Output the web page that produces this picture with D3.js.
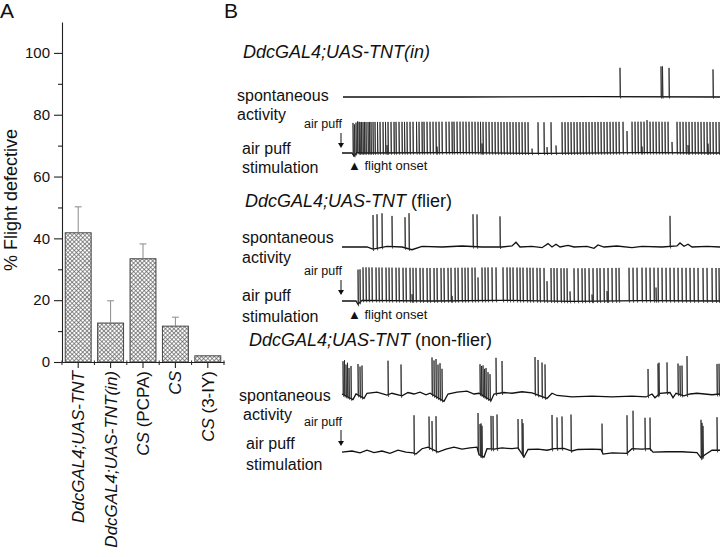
<!DOCTYPE html>
<html>
<head>
<meta charset="utf-8">
<script src="https://cdn.jsdelivr.net/npm/d3@7"></script>
<style>
  body { margin: 0; background: #fff; }
  svg { display: block; font-family: "Liberation Sans", Arial, sans-serif; }
</style>
</head>
<body>
<div id="chart"></div>
<script>
// ---- panel A data ----
const genotypes = ["DdcGAL4;UAS-TNT", "DdcGAL4;UAS-TNT(in)", "CS (PCPA)", "CS", "CS (3-IY)"];
const defective = [41.8, 12.6, 33.4, 11.6, 2.0];
const defectiveErr = [8.4, 7.2, 4.8, 2.9, 0];
const yTicks = [0, 20, 40, 60, 80, 100];
const yMinor = [10, 30, 50, 70, 90];

// ---- panel B data (time in ms, amplitude relative to spike height) ----
const traceTitles = [
  ["DdcGAL4;UAS-TNT(in)", ""],
  ["DdcGAL4;UAS-TNT", " (flier)"],
  ["DdcGAL4;UAS-TNT", " (non-flier)"]
];

// inhibited line, spontaneous
const t1SpontBase = [[1, 0], [120, 0], [250, 0.01], [378, 0]];
const t1SpontSpikes = [[278, 1], [319, 1.05], [320.5, 1.05], [327, 1], [371, 0.95]];

// inhibited line, air puff
const t1PuffBase = [[0, 0], [10, 0], [12, -0.1], [15, 0.02], [18, 0], [120, 0.01], [200, -0.01], [300, 0.01], [378, 0]];
const t1PuffSpikes = [
  [11, 1.02], [12.5, 1], [14, 1], [15.5, 1], [17, 1], [18, 1], [19.5, 1], [21, 1], [22.5, 1], [24, 1],
  [26, 1], [27.5, 1], [29, 1], [31, 1], [33, 1], [35.5, 1], [38, 1], [41, 1], [43.5, 1], [46, 1],
  [49, 1], [52, 1], [54, 1], [57, 1], [60, 1], [62.5, 1], [65, 1], [68, 1], [71, 1], [74.5, 1],
  [77, 1], [80, 1], [82, 1], [85, 1], [88, 1], [91, 1], [94, 1], [97, 1], [100, 1], [104, 1],
  [107, 1], [110, 1], [112, 1], [115, 1], [118, 1], [121, 1], [124, 1], [127, 1], [130, 1], [133, 1],
  [136, 1], [138.5, 1], [141, 1], [144, 1], [147, 1], [150, 1], [153, 1], [156, 1], [159, 1], [162, 1],
  [165, 1], [168, 1], [171, 1], [174, 1], [177, 1], [180, 1], [183, 1], [186, 1], [196, 1], [202, 1],
  [209, 1], [220, 1], [223, 1], [226, 1], [229, 1], [232, 1], [235, 1], [238, 1], [241, 1], [244, 1],
  [247, 1], [250, 1], [253, 1], [256, 1], [259, 1], [262, 1], [265, 1], [268, 1], [271, 1], [274, 1],
  [277, 1], [281, 1], [290, 1], [293, 1], [296, 1], [299, 1], [302, 1], [305, 1.05], [308, 1], [311, 1],
  [314, 1], [317, 1], [320, 1], [323, 1], [326, 1], [335, 1], [338, 1], [341, 1], [344, 1], [347, 1],
  [350, 1], [353, 1], [356, 1], [359, 1], [362, 1], [365, 1], [368, 1], [371, 1], [374, 1], [377, 1],
  [45, 0.25], [95, 0.2], [140, 0.3], [190, 0.15], [205, 0.2], [214, 0.25], [285, 0.7], [300, 0.2],
  [330, 0.35], [346, 0.25], [366, 0.3]
];

// flier, spontaneous
const t2SpontBase = [
  [0, 0], [25, 0], [31, -0.06], [45, 0.02], [60, 0], [70, -0.08], [80, 0.02], [100, 0], [120, 0.03],
  [140, 0], [160, 0], [170, 0.03], [174, 0.14], [178, 0], [190, 0.02], [200, -0.02], [206, 0.1],
  [210, 0], [214, 0.08], [218, 0], [226, 0.05], [232, 0], [245, 0.02], [252, -0.04], [256, 0.06],
  [262, 0], [275, 0.03], [290, -0.02], [300, 0.02], [320, 0], [335, 0.03], [338, 0.12], [342, 0.02],
  [346, 0.08], [350, 0], [365, 0.02], [378, 0]
];
const t2SpontSpikes = [[31, 1], [35, 1], [40, 1], [50, 0.9], [63, 0.9], [67, 1.05], [131, 0.95], [135, 0.95], [158, 0.9], [328, 0.9]];

// flier, air puff
const t2PuffBase = [[0, 0], [14, 0], [16, -0.1], [20, 0.02], [90, 0], [160, 0.02], [230, -0.01], [300, 0.01], [378, 0]];
const t2PuffSpikes = [
  [16, 1.05], [18, 1], [21, 1], [24, 1], [27, 1], [30, 1], [34, 1], [37, 1], [40, 1], [44, 1],
  [47, 1], [50, 1], [54, 1], [57, 1], [61, 1], [64, 1], [68, 1], [71, 1], [74, 1], [78, 1],
  [81, 1], [85, 1], [88, 1], [92, 1], [95, 1], [99, 1], [102, 1], [106, 1], [109, 1], [113, 1],
  [116, 1], [120, 1], [123, 1], [126, 1], [130, 1], [133, 1], [140, 1], [143, 1], [146, 1], [150, 1],
  [154, 1], [161, 1], [165, 1], [168, 1], [171, 1], [175, 1], [178, 1], [181, 1], [185, 1], [188, 1],
  [191, 1], [195, 1], [198, 1], [202, 1], [209, 1], [212, 1], [215, 1], [219, 1], [222, 1], [225, 1],
  [232, 1], [236, 1], [240, 1], [243, 1], [247, 1], [251, 1], [255, 1], [258, 1], [262, 1], [266, 1],
  [270, 1], [274, 1], [277, 1], [287, 1], [291, 1], [295, 1], [300, 1], [304, 1], [308, 1], [312, 1],
  [316, 1], [320, 1], [324, 1], [328, 1], [332, 1], [336, 1], [340, 1], [344, 1], [348, 1], [352, 1],
  [356, 1], [361, 1], [365, 1], [370, 1], [374, 1], [377, 1],
  [136, 0.7], [205, 0.6], [228, 0.3], [265, 0.3], [314, 0.4], [70, 0.2], [110, 0.15], [250, 0.2]
];

// non-flier, spontaneous
const t3SpontBase = [
  [0, 0], [11, -0.15], [14, 0], [22, -0.12], [25, 0.02], [35, 0.05], [45, -0.03], [50, 0.02], [60, -0.05],
  [66, 0.04], [72, 0], [78, 0.05], [84, -0.02], [88, 0.02], [102, -0.2], [106, 0], [115, 0.05], [125, 0.08],
  [132, 0], [137, 0.02], [149, -0.18], [152, 0], [162, 0.04], [170, 0.02], [180, 0.06], [190, 0.03],
  [205, -0.12], [210, 0.02], [215, -0.04], [230, -0.08], [250, -0.06], [270, -0.08], [290, -0.06],
  [304, -0.08], [310, 0], [313, -0.1], [318, 0.02], [328, 0.04], [331, -0.1], [334, 0.02], [342, -0.05],
  [348, 0], [355, 0.02], [370, -0.02], [378, 0]
];
const t3SpontSpikes = [
  [1, 0.9], [2.5, 0.95], [4, 0.85], [5.5, 0.92], [7, 0.8], [9, 0.88],
  [16, 0.84], [18, 0.8], [20, 0.86], [46, 0.92], [59, 0.84],
  [90, 1.0], [92, 0.95], [94, 1.02], [96, 0.9], [98, 0.97], [100, 0.85],
  [138, 0.8], [139.5, 0.78], [141, 0.82], [142.5, 0.75], [144, 0.8], [146, 0.72], [148, 0.7],
  [154, 0.97], [160, 0.86], [193, 1.0], [196, 0.95], [200, 0.92], [203, 0.9],
  [306, 0.73], [316, 0.85], [317, 0.85], [325, 0.82], [336, 0.82], [338, 0.78], [340, 0.8],
  [345, 1.05], [375, 0.82], [377, 0.82]
];

// non-flier, air puff
const t3PuffBase = [
  [0, -0.03], [10, 0], [18, -0.05], [25, 0.02], [32, -0.04], [40, 0], [48, -0.06], [56, 0.02], [64, -0.03],
  [71, -0.05], [74, -0.08], [80, 0.06], [86, 0.1], [96, -0.03], [104, 0.05], [112, 0.1], [120, 0.05],
  [128, 0.08], [135, 0.1], [137, -0.1], [142, -0.16], [145, 0.06], [152, 0.05], [160, 0.08], [170, 0.06],
  [176, 0.08], [182, -0.16], [186, 0.04], [196, 0.05], [205, 0.02], [212, 0.06], [222, 0.07], [230, 0],
  [236, 0.04], [250, 0.05], [259, 0.04], [261, -0.08], [270, -0.05], [285, -0.06], [290, 0.06], [300, 0.05],
  [308, 0.06], [311, -0.03], [325, -0.02], [340, -0.02], [355, -0.04], [359, -0.18], [363, -0.1],
  [370, 0.02], [378, 0.02]
];
const t3PuffSpikes = [
  [72, 1.0], [87, 0.82], [90, 0.74], [94, 0.92], [136, 1.0], [138, 0.82], [139, 0.85], [140, 0.8],
  [149, 0.87], [151, 0.87], [155, 0.9], [176, 0.76], [180, 0.92], [181, 0.85], [210, 0.9], [215, 0.82],
  [220, 0.84], [229, 0.95], [260, 0.74], [285, 1.0], [291, 1.0], [303, 0.82], [308, 0.82],
  [359, 1.0], [360, 0.9], [361, 0.8], [375, 0.87]
];

// ---- drawing ----
const width = 720;
const height = 557;
const ink = "#111";

const svg = d3.select("#chart")
  .append("svg")
  .attr("width", width)
  .attr("height", height);

// cross hatch for bars
const pat = svg.append("defs").append("pattern")
  .attr("id", "xhatch")
  .attr("patternUnits", "userSpaceOnUse")
  .attr("width", 3)
  .attr("height", 3)
  .attr("patternTransform", "rotate(45)");
pat.append("rect").attr("width", 3).attr("height", 3).attr("fill", "#fff");
pat.append("path").attr("d", "M0,1.5H3M1.5,0V3").attr("stroke", "#5e5e5e").attr("stroke-width", 0.7);

// ===== Panel A =====
svg.append("text").attr("x", 0).attr("y", 18).attr("font-size", 21).attr("fill", ink).text("A");

const y = d3.scaleLinear().domain([0, 110]).range([362, 22]);
const x = d3.scaleBand().domain(genotypes).range([62, 224]).paddingInner(0.2).paddingOuter(0.1);

const yAxis = svg.append("g")
  .attr("transform", "translate(62,0)")
  .call(d3.axisLeft(y).tickValues(yTicks).tickSize(8).tickSizeOuter(0).tickPadding(4));
yAxis.selectAll("text").attr("font-size", 15).attr("font-family", "Liberation Sans, Arial, sans-serif").attr("fill", ink);
yAxis.selectAll("line, path").attr("stroke", "#222").attr("stroke-width", 1.1);

const yAxisMinor = svg.append("g")
  .attr("transform", "translate(62,0)")
  .call(d3.axisLeft(y).tickValues(yMinor).tickSize(4).tickFormat(""));
yAxisMinor.select("path").remove();
yAxisMinor.selectAll("line").attr("stroke", "#222").attr("stroke-width", 1.1);

svg.append("text")
  .attr("transform", "translate(17,200) rotate(-90)")
  .attr("text-anchor", "middle")
  .attr("font-size", 18)
  .attr("fill", ink)
  .text("% Flight defective");

// bars
const bars = genotypes.map((g, i) => ({ g, v: defective[i], e: defectiveErr[i] }));

svg.selectAll("rect.bar")
  .data(bars)
  .enter()
  .append("rect")
  .attr("class", "bar")
  .attr("x", (d) => x(d.g))
  .attr("width", x.bandwidth())
  .attr("y", (d) => y(d.v))
  .attr("height", (d) => y(0) - y(d.v))
  .attr("fill", "url(#xhatch)")
  .attr("stroke", "#444")
  .attr("stroke-width", 1);

// error bars (upper only)
const errs = bars.filter((d) => d.e > 0);
svg.selectAll("line.err")
  .data(errs)
  .enter()
  .append("line")
  .attr("class", "err")
  .attr("x1", (d) => x(d.g) + x.bandwidth() / 2)
  .attr("x2", (d) => x(d.g) + x.bandwidth() / 2)
  .attr("y1", (d) => y(d.v))
  .attr("y2", (d) => y(d.v + d.e))
  .attr("stroke", "#8a8a8a")
  .attr("stroke-width", 1);
svg.selectAll("line.cap")
  .data(errs)
  .enter()
  .append("line")
  .attr("class", "cap")
  .attr("x1", (d) => x(d.g) + x.bandwidth() / 2 - 3.5)
  .attr("x2", (d) => x(d.g) + x.bandwidth() / 2 + 3.5)
  .attr("y1", (d) => y(d.v + d.e))
  .attr("y2", (d) => y(d.v + d.e))
  .attr("stroke", "#8a8a8a")
  .attr("stroke-width", 1);

// x axis
const xAxis = svg.append("g")
  .attr("transform", `translate(0,${y(0)})`)
  .call(d3.axisBottom(x).tickSize(6).tickSizeOuter(0).tickFormat(""));
xAxis.selectAll("line, path").attr("stroke", "#222").attr("stroke-width", 1.1);

// minor ticks between the bars
const gapHalf = (x.step() * x.paddingInner()) / 2;
const minorX = genotypes.map((g) => x(g) - gapHalf).concat([x(genotypes[4]) + x.bandwidth() + gapHalf]);
svg.selectAll("line.xminor")
  .data(minorX)
  .enter()
  .append("line")
  .attr("class", "xminor")
  .attr("x1", (d) => d)
  .attr("x2", (d) => d)
  .attr("y1", y(0) - 1.5)
  .attr("y2", y(0) + 3)
  .attr("stroke", "#222")
  .attr("stroke-width", 1);

// rotated genotype labels, genotype part in italics
const xLabels = svg.selectAll("text.xlab")
  .data(genotypes)
  .enter()
  .append("text")
  .attr("class", "xlab")
  .attr("transform", (g) => `translate(${x(g) + x.bandwidth() / 2 + 6},${y(0) + 9}) rotate(-90)`)
  .attr("text-anchor", "end")
  .attr("font-size", 17)
  .attr("fill", ink);
xLabels.each(function (g) {
  const m = g.match(/^(DdcGAL4;UAS-TNT(?:\(in\))?|CS)(.*)$/);
  const t = d3.select(this);
  t.append("tspan").attr("font-style", "italic").text(m[1]);
  if (m[2]) t.append("tspan").text(m[2]);
});

// ===== Panel B =====
svg.append("text").attr("x", 224).attr("y", 18).attr("font-size", 21).attr("fill", ink).text("B");

const t = d3.scaleLinear().domain([0, 378]).range([342, 720]);

const titleY = [58, 207, 346];
const titleX = [243, 245, 249];
traceTitles.forEach((tt, i) => {
  const tx = svg.append("text")
    .attr("x", titleX[i])
    .attr("y", titleY[i])
    .attr("font-size", 18)
    .attr("fill", ink);
  tx.append("tspan").attr("font-style", "italic").text(tt[0]);
  if (tt[1]) tx.append("tspan").text(tt[1]);
});

function drawTrace(base, spikes, yBase, yPeak) {
  const v = d3.scaleLinear().domain([0, 1]).range([yBase, yPeak]);
  const line = d3.line().x((d) => t(d[0])).y((d) => v(d[1]));
  svg.append("path")
    .attr("d", line(base))
    .attr("fill", "none")
    .attr("stroke", ink)
    .attr("stroke-width", 1.3);

  const bt = base.map((d) => d[0]);
  const level = (ms) => {
    const i = Math.max(1, Math.min(base.length - 1, d3.bisectLeft(bt, ms)));
    const a = base[i - 1], b = base[i];
    const f = b[0] === a[0] ? 0 : (ms - a[0]) / (b[0] - a[0]);
    return a[1] + (b[1] - a[1]) * f;
  };

  svg.append("g")
    .selectAll("path")
    .data(spikes)
    .enter()
    .append("path")
    .attr("d", (d) => {
      const b = level(d[0]);
      return `M${t(d[0])},${v(b)}L${t(d[0])},${v(b + d[1])}L${t(d[0]) + 0.6},${v(b - 0.06)}`;
    })
    .attr("fill", "none")
    .attr("stroke", "#222")
    .attr("stroke-width", 0.8);
}

drawTrace(t1SpontBase, t1SpontSpikes, 97, 68);
drawTrace(t1PuffBase, t1PuffSpikes, 153, 122);
drawTrace(t2SpontBase, t2SpontSpikes, 247, 213);
drawTrace(t2PuffBase, t2PuffSpikes, 301, 268);
drawTrace(t3SpontBase, t3SpontSpikes, 394, 357);
drawTrace(t3PuffBase, t3PuffSpikes, 451, 413);

// row labels
const rowLabels = [
  ["spontaneous", 237, 101], ["activity", 237, 120], ["air puff", 242, 154], ["stimulation", 242, 173],
  ["spontaneous", 242, 243], ["activity", 242, 263], ["air puff", 242, 301], ["stimulation", 242, 322],
  ["spontaneous", 239, 401], ["activity", 243, 420], ["air puff", 246, 449], ["stimulation", 246, 470]
];
svg.selectAll("text.row")
  .data(rowLabels)
  .enter()
  .append("text")
  .attr("class", "row")
  .attr("x", (d) => d[1])
  .attr("y", (d) => d[2])
  .attr("font-size", 16)
  .attr("fill", ink)
  .text((d) => d[0]);

// air puff markers: small label + down arrow
[[128, 133, 148], [275, 280, 295], [426, 430, 446]].forEach(([ly, a0, a1]) => {
  svg.append("text")
    .attr("x", 342)
    .attr("y", ly)
    .attr("text-anchor", "end")
    .attr("font-size", 12.5)
    .attr("fill", ink)
    .text("air puff");
  svg.append("line")
    .attr("x1", 341).attr("x2", 341)
    .attr("y1", a0).attr("y2", a1 - 4)
    .attr("stroke", ink).attr("stroke-width", 1);
  svg.append("path")
    .attr("d", `M338,${a1 - 5}L344,${a1 - 5}L341,${a1}Z`)
    .attr("fill", ink);
});

// flight onset markers
[170, 319].forEach((by) => {
  svg.append("text")
    .attr("x", 348)
    .attr("y", by)
    .attr("font-size", 13)
    .attr("fill", ink)
    .text("\u25B2 flight onset");
});
</script>
</body>
</html>
